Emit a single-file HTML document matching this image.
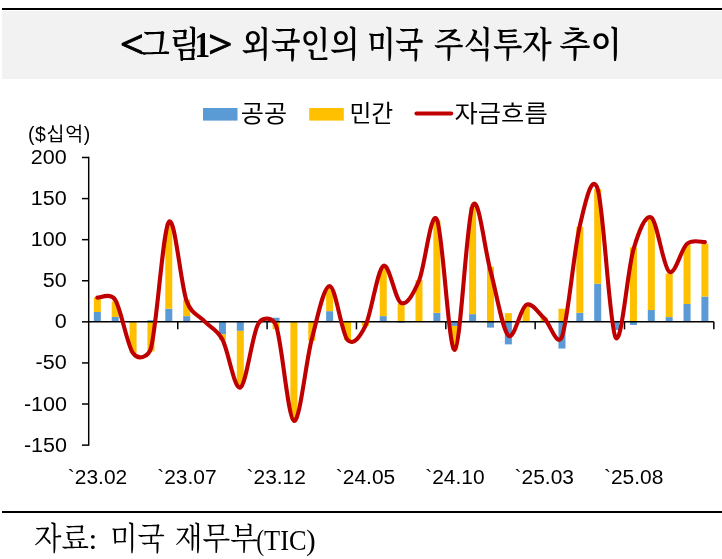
<!DOCTYPE html>
<html lang="ko"><head><meta charset="utf-8"><title>그림1 외국인의 미국 주식투자 추이</title>
<style>
html,body{margin:0;padding:0;background:#fff;}
body{width:722px;height:559px;position:relative;overflow:hidden;font-family:"Liberation Sans","Noto Sans CJK KR",sans-serif;}
.topline{position:absolute;left:2px;top:8px;width:720px;height:2px;background:#000;}
.band{position:absolute;left:2px;top:11px;width:720px;height:68px;background:#f2f2f2;}
.botline{position:absolute;left:2px;top:511px;width:720px;height:2px;background:#000;}
svg{position:absolute;left:0;top:0;}
svg text{fill:#000;white-space:pre;}
.n{font-family:"Liberation Sans",sans-serif;font-size:19.3px;}
.k{font-family:"Liberation Sans","Noto Sans CJK KR",sans-serif;}
.lg{font-size:23.5px;}
.ttl{font-family:"Liberation Serif","Noto Serif CJK SC",serif;font-weight:700;}
.src{font-family:"Liberation Serif","Noto Serif CJK SC",serif;font-weight:400;}
</style></head><body>
<div class="topline"></div><div class="band"></div><div class="botline"></div>
<svg width="722" height="559" viewBox="0 0 722 559">
<text class="ttl"><tspan x="120.04" y="57.1" textLength="23.83" lengthAdjust="spacingAndGlyphs" style="font-size:38.8px;font-weight:700;stroke:#000;stroke-width:0.9px;stroke-linejoin:round">&lt;</tspan><tspan x="139.94" y="57.0" textLength="59.6" lengthAdjust="spacingAndGlyphs" style="font-size:35.1px;font-weight:600">그림</tspan><tspan x="194.47" y="56.7" textLength="15.67" lengthAdjust="spacingAndGlyphs" style="font-size:35.5px;font-weight:700">1</tspan><tspan x="208.2" y="57.1" textLength="24.32" lengthAdjust="spacingAndGlyphs" style="font-size:38.8px;font-weight:700;stroke:#000;stroke-width:0.9px;stroke-linejoin:round">&gt;</tspan> <tspan x="241.51" y="57.0" textLength="118.01" lengthAdjust="spacingAndGlyphs" style="font-size:35.1px;font-weight:600">외국인의</tspan> <tspan x="367.13" y="57.0" textLength="56.33" lengthAdjust="spacingAndGlyphs" style="font-size:35.1px;font-weight:600">미국</tspan> <tspan x="434.05" y="57.0" textLength="117.74" lengthAdjust="spacingAndGlyphs" style="font-size:35.1px;font-weight:600">주식투자</tspan> <tspan x="559.31" y="57.0" textLength="62.45" lengthAdjust="spacingAndGlyphs" style="font-size:35.1px;font-weight:600">추이</tspan></text>
<g>
<rect x="93.84" y="311.99" width="7.00" height="9.86" fill="#5B9BD5"/>
<rect x="93.84" y="297.52" width="7.00" height="14.46" fill="#FFC000"/>
<rect x="111.71" y="316.92" width="7.00" height="4.93" fill="#5B9BD5"/>
<rect x="111.71" y="301.31" width="7.00" height="15.61" fill="#FFC000"/>
<rect x="129.58" y="321.85" width="7.00" height="31.23" fill="#FFC000"/>
<rect x="147.44" y="320.21" width="7.00" height="1.64" fill="#5B9BD5"/>
<rect x="147.44" y="321.85" width="7.00" height="29.58" fill="#FFC000"/>
<rect x="165.31" y="308.70" width="7.00" height="13.15" fill="#5B9BD5"/>
<rect x="165.31" y="223.23" width="7.00" height="85.47" fill="#FFC000"/>
<rect x="183.19" y="316.10" width="7.00" height="5.75" fill="#5B9BD5"/>
<rect x="183.19" y="299.66" width="7.00" height="16.44" fill="#FFC000"/>
<rect x="218.93" y="321.85" width="7.00" height="12.33" fill="#5B9BD5"/>
<rect x="218.93" y="334.18" width="7.00" height="5.75" fill="#FFC000"/>
<rect x="236.80" y="321.85" width="7.00" height="9.04" fill="#5B9BD5"/>
<rect x="236.80" y="330.89" width="7.00" height="56.70" fill="#FFC000"/>
<rect x="272.54" y="317.74" width="7.00" height="4.11" fill="#5B9BD5"/>
<rect x="272.54" y="321.85" width="7.00" height="7.40" fill="#FFC000"/>
<rect x="290.41" y="321.85" width="7.00" height="97.79" fill="#FFC000"/>
<rect x="308.27" y="321.85" width="7.00" height="18.90" fill="#FFC000"/>
<rect x="326.14" y="311.17" width="7.00" height="10.68" fill="#5B9BD5"/>
<rect x="326.14" y="287.33" width="7.00" height="23.83" fill="#FFC000"/>
<rect x="344.01" y="321.85" width="7.00" height="18.08" fill="#FFC000"/>
<rect x="361.88" y="321.85" width="7.00" height="4.11" fill="#FFC000"/>
<rect x="379.75" y="316.10" width="7.00" height="5.75" fill="#5B9BD5"/>
<rect x="379.75" y="267.61" width="7.00" height="48.49" fill="#FFC000"/>
<rect x="397.62" y="321.85" width="7.00" height="0.82" fill="#5B9BD5"/>
<rect x="397.62" y="303.77" width="7.00" height="18.08" fill="#FFC000"/>
<rect x="415.50" y="279.94" width="7.00" height="41.91" fill="#FFC000"/>
<rect x="433.37" y="312.81" width="7.00" height="9.04" fill="#5B9BD5"/>
<rect x="433.37" y="220.36" width="7.00" height="92.45" fill="#FFC000"/>
<rect x="451.24" y="321.85" width="7.00" height="4.11" fill="#5B9BD5"/>
<rect x="451.24" y="325.96" width="7.00" height="23.83" fill="#FFC000"/>
<rect x="469.11" y="314.13" width="7.00" height="7.72" fill="#5B9BD5"/>
<rect x="469.11" y="207.29" width="7.00" height="106.83" fill="#FFC000"/>
<rect x="486.98" y="321.85" width="7.00" height="5.75" fill="#5B9BD5"/>
<rect x="486.98" y="266.79" width="7.00" height="55.06" fill="#FFC000"/>
<rect x="504.85" y="321.85" width="7.00" height="22.52" fill="#5B9BD5"/>
<rect x="504.85" y="313.14" width="7.00" height="8.71" fill="#FFC000"/>
<rect x="522.72" y="306.24" width="7.00" height="15.61" fill="#FFC000"/>
<rect x="540.59" y="317.33" width="7.00" height="4.52" fill="#FFC000"/>
<rect x="558.46" y="321.85" width="7.00" height="26.71" fill="#5B9BD5"/>
<rect x="558.46" y="308.70" width="7.00" height="13.15" fill="#FFC000"/>
<rect x="576.33" y="312.81" width="7.00" height="9.04" fill="#5B9BD5"/>
<rect x="576.33" y="226.85" width="7.00" height="85.96" fill="#FFC000"/>
<rect x="594.20" y="283.64" width="7.00" height="38.21" fill="#5B9BD5"/>
<rect x="594.20" y="189.13" width="7.00" height="94.51" fill="#FFC000"/>
<rect x="612.07" y="321.85" width="7.00" height="8.22" fill="#5B9BD5"/>
<rect x="629.94" y="321.85" width="7.00" height="3.12" fill="#5B9BD5"/>
<rect x="629.94" y="247.39" width="7.00" height="74.46" fill="#FFC000"/>
<rect x="647.81" y="310.02" width="7.00" height="11.83" fill="#5B9BD5"/>
<rect x="647.81" y="218.80" width="7.00" height="91.22" fill="#FFC000"/>
<rect x="665.67" y="317.08" width="7.00" height="4.77" fill="#5B9BD5"/>
<rect x="665.67" y="273.61" width="7.00" height="43.47" fill="#FFC000"/>
<rect x="683.54" y="303.93" width="7.00" height="17.92" fill="#5B9BD5"/>
<rect x="683.54" y="244.77" width="7.00" height="59.17" fill="#FFC000"/>
<rect x="701.41" y="296.54" width="7.00" height="25.31" fill="#5B9BD5"/>
<rect x="701.41" y="243.78" width="7.00" height="52.76" fill="#FFC000"/>
</g>
<line x1="88.7" y1="156.79" x2="88.7" y2="445.82" stroke="#000" stroke-width="1.45"/>
<line x1="82" y1="445.12" x2="88.7" y2="445.12" stroke="#000" stroke-width="1.5"/>
<line x1="82" y1="404.03" x2="88.7" y2="404.03" stroke="#000" stroke-width="1.5"/>
<line x1="82" y1="362.94" x2="88.7" y2="362.94" stroke="#000" stroke-width="1.5"/>
<line x1="82" y1="321.85" x2="88.7" y2="321.85" stroke="#000" stroke-width="1.5"/>
<line x1="82" y1="280.76" x2="88.7" y2="280.76" stroke="#000" stroke-width="1.5"/>
<line x1="82" y1="239.67" x2="88.7" y2="239.67" stroke="#000" stroke-width="1.5"/>
<line x1="82" y1="198.58" x2="88.7" y2="198.58" stroke="#000" stroke-width="1.5"/>
<line x1="82" y1="157.49" x2="88.7" y2="157.49" stroke="#000" stroke-width="1.5"/>
<line x1="87.95" y1="321.85" x2="713.85" y2="321.85" stroke="#000" stroke-width="1.5"/>
<line x1="177.75" y1="321.85" x2="177.75" y2="329.35" stroke="#000" stroke-width="1.5"/>
<line x1="267.10" y1="321.85" x2="267.10" y2="329.35" stroke="#000" stroke-width="1.5"/>
<line x1="356.45" y1="321.85" x2="356.45" y2="329.35" stroke="#000" stroke-width="1.5"/>
<line x1="445.80" y1="321.85" x2="445.80" y2="329.35" stroke="#000" stroke-width="1.5"/>
<line x1="535.15" y1="321.85" x2="535.15" y2="329.35" stroke="#000" stroke-width="1.5"/>
<line x1="624.50" y1="321.85" x2="624.50" y2="329.35" stroke="#000" stroke-width="1.5"/>
<line x1="713.85" y1="321.85" x2="713.85" y2="329.35" stroke="#000" stroke-width="1.5"/>
<path d="M97.34,297.61 C100.31,297.98 110.34,292.25 115.21,299.83 C121.16,309.11 127.12,345.27 133.08,353.32 C138.61,360.80 148.50,357.12 150.94,348.15 C156.90,326.26 162.86,229.81 168.81,222.00 C174.77,214.19 180.73,284.73 186.69,301.31 C191.24,313.97 198.60,315.07 204.56,321.44 C210.51,327.81 216.47,328.49 222.43,339.52 C228.38,350.54 234.34,390.20 240.30,387.59 C246.25,384.99 252.21,334.25 258.17,323.90 C262.64,316.13 272.93,317.13 276.04,325.55 C281.99,341.71 287.95,418.62 293.91,420.88 C299.86,423.14 305.82,361.57 311.77,339.11 C317.73,316.65 323.69,285.96 329.64,286.10 C335.60,286.24 341.56,333.29 347.51,339.93 C353.47,346.57 360.45,336.17 365.38,325.96 C371.34,313.63 377.30,269.80 383.25,265.97 C389.21,262.13 395.17,300.48 401.12,302.95 C407.08,305.41 413.38,293.85 419.00,280.76 C424.95,266.86 430.91,208.03 436.87,219.54 C442.82,231.04 448.78,352.12 454.74,349.79 C460.69,347.46 466.65,218.71 472.61,205.57 C478.56,192.42 484.52,249.26 490.48,270.90 C496.43,292.54 502.39,329.75 508.35,335.41 C514.30,341.07 520.26,307.72 526.22,304.84 C532.17,301.96 538.13,312.85 544.09,318.15 C550.04,323.45 557.32,348.63 561.96,336.64 C567.91,321.23 573.87,250.28 579.83,225.70 C584.62,205.92 591.74,170.50 597.70,189.13 C603.65,207.76 609.61,327.40 615.57,337.46 C621.52,347.53 627.48,269.53 633.44,249.53 C638.67,231.95 645.35,213.78 651.31,217.48 C657.26,221.18 663.22,267.34 669.17,271.72 C675.13,276.10 681.09,248.71 687.04,243.78 C693.00,238.85 701.94,242.41 704.91,242.14" fill="none" stroke="#C00000" stroke-width="4.1" stroke-linecap="round" stroke-linejoin="round"/>
<rect x="203" y="108" width="34.5" height="12.6" fill="#5B9BD5"/>
<text x="240.8" y="122.3" class="k lg" textLength="46.3" lengthAdjust="spacingAndGlyphs">공공</text>
<rect x="309.2" y="108" width="34.6" height="12.6" fill="#FFC000"/>
<text x="349.4" y="122.3" class="k lg" textLength="43.85" lengthAdjust="spacingAndGlyphs">민간</text>
<line x1="416.5" y1="113.5" x2="451.2" y2="113.5" stroke="#C00000" stroke-width="4.1" stroke-linecap="round"/>
<text x="454.55" y="122.3" class="k lg" textLength="93.15" lengthAdjust="spacingAndGlyphs">자금흐름</text>
<text x="23.91" y="451.62" class="n" textLength="43.07" lengthAdjust="spacingAndGlyphs">-150</text>
<text x="23.91" y="410.53" class="n" textLength="43.07" lengthAdjust="spacingAndGlyphs">-100</text>
<text x="35.62" y="369.44" class="n" textLength="31.10" lengthAdjust="spacingAndGlyphs">-50</text>
<text x="54.85" y="328.35" class="n" textLength="11.97" lengthAdjust="spacingAndGlyphs">0</text>
<text x="42.86" y="287.26" class="n" textLength="23.93" lengthAdjust="spacingAndGlyphs">50</text>
<text x="30.88" y="246.17" class="n" textLength="35.90" lengthAdjust="spacingAndGlyphs">100</text>
<text x="30.88" y="205.08" class="n" textLength="35.90" lengthAdjust="spacingAndGlyphs">150</text>
<text x="30.88" y="163.99" class="n" textLength="35.90" lengthAdjust="spacingAndGlyphs">200</text>
<text x="67.82" y="483.7" class="n" textLength="59.37" lengthAdjust="spacingAndGlyphs">`23.02</text>
<text x="157.16" y="483.7" class="n" textLength="59.37" lengthAdjust="spacingAndGlyphs">`23.07</text>
<text x="246.52" y="483.7" class="n" textLength="59.37" lengthAdjust="spacingAndGlyphs">`23.12</text>
<text x="335.87" y="483.7" class="n" textLength="59.37" lengthAdjust="spacingAndGlyphs">`24.05</text>
<text x="425.22" y="483.7" class="n" textLength="59.37" lengthAdjust="spacingAndGlyphs">`24.10</text>
<text x="514.57" y="483.7" class="n" textLength="59.37" lengthAdjust="spacingAndGlyphs">`25.03</text>
<text x="603.91" y="483.7" class="n" textLength="59.37" lengthAdjust="spacingAndGlyphs">`25.08</text>
<text x="27.95" y="140.6" class="k" style="font-size:19.5px" textLength="62.26" lengthAdjust="spacing">($십억)</text>
<text class="src"><tspan x="34.08" y="549.4" textLength="54.91" lengthAdjust="spacingAndGlyphs" style="font-size:31px;font-weight:400">자료</tspan><tspan x="88.51" y="548.5" textLength="8.77" lengthAdjust="spacingAndGlyphs" style="font-size:28.5px;font-weight:400">:</tspan> <tspan x="110.25" y="549.4" textLength="54.54" lengthAdjust="spacingAndGlyphs" style="font-size:31px;font-weight:400">미국</tspan> <tspan x="174.81" y="549.4" textLength="83.03" lengthAdjust="spacingAndGlyphs" style="font-size:31px;font-weight:400">재무부</tspan><tspan x="256.27" y="550.0" textLength="7.93" lengthAdjust="spacingAndGlyphs" style="font-size:28.8px;font-weight:400">(</tspan><tspan x="264.04" y="550.2" textLength="42.5" lengthAdjust="spacingAndGlyphs" style="font-size:28.5px;font-weight:400">TIC</tspan><tspan x="306.09" y="550.0" textLength="9.66" lengthAdjust="spacingAndGlyphs" style="font-size:28.8px;font-weight:400">)</tspan></text>
</svg>
</body></html>
